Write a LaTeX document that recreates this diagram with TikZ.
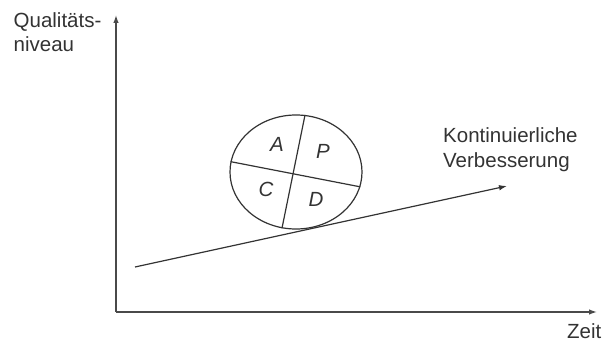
\documentclass[tikz,border=0pt]{standalone}
\usepackage{fontspec}
\setmainfont{Liberation Sans}
\usetikzlibrary{arrows.meta,shapes.geometric}
\definecolor{ink}{HTML}{333333}
\definecolor{axis}{HTML}{4A4A4A}
\begin{document}
\begin{tikzpicture}[x=1pt,y=-1pt,
  axisline/.style={draw=axis,line width=1.3pt,-{Latex[length=8pt,width=5.5pt]}},
  trendline/.style={draw=ink,line width=1.2pt,-{Latex[length=8pt,width=5.5pt]}},
  lbl/.style={font=\fontsize{20.5}{24}\selectfont,text=ink,inner sep=0pt,anchor=base west},
  quad/.style={font=\fontsize{20.5}{24}\selectfont\itshape,text=ink,inner sep=0pt},
  wheel/.style={ellipse,draw=ink,line width=1.2pt,minimum width=132pt,minimum height=114pt,inner sep=0pt},
  divider/.style={draw=ink,line width=1.2pt}]
\useasboundingbox (0,0) rectangle (606,342);
% axes
\coordinate (origin) at (116,312);
\coordinate (ytip) at (116,15);
\coordinate (xtip) at (597,312);
\draw[axisline] (origin) -- (ytip);
\draw[axisline] (origin) -- (xtip);
\node[lbl] (ylabel1) at (13.5,28) {Qualitäts-};
\node[lbl] (ylabel2) at (13.5,51.5) {niveau};
\node[lbl] (xlabel) at (567,338) {Zeit};
% trend
\coordinate (tstart) at (135,267);
\coordinate (ttip) at (507,186);
\draw[trendline] (tstart) -- (ttip);
\node[lbl] (trend1) at (443,143) {Kontinuierliche};
\node[lbl] (trend2) at (443,168) {Verbesserung};
% PDCA wheel
\node[wheel] (pdca) at (296,172) {};
\draw[divider] (pdca.81) -- (pdca.256);
\draw[divider] (pdca.171) -- (pdca.347.5);
\node[quad] (qa) at (277,144) {A};
\node[quad] (qp) at (323,151) {P};
\node[quad] (qc) at (266,189) {C};
\node[quad] (qd) at (316,199) {D};
\end{tikzpicture}
\end{document}
